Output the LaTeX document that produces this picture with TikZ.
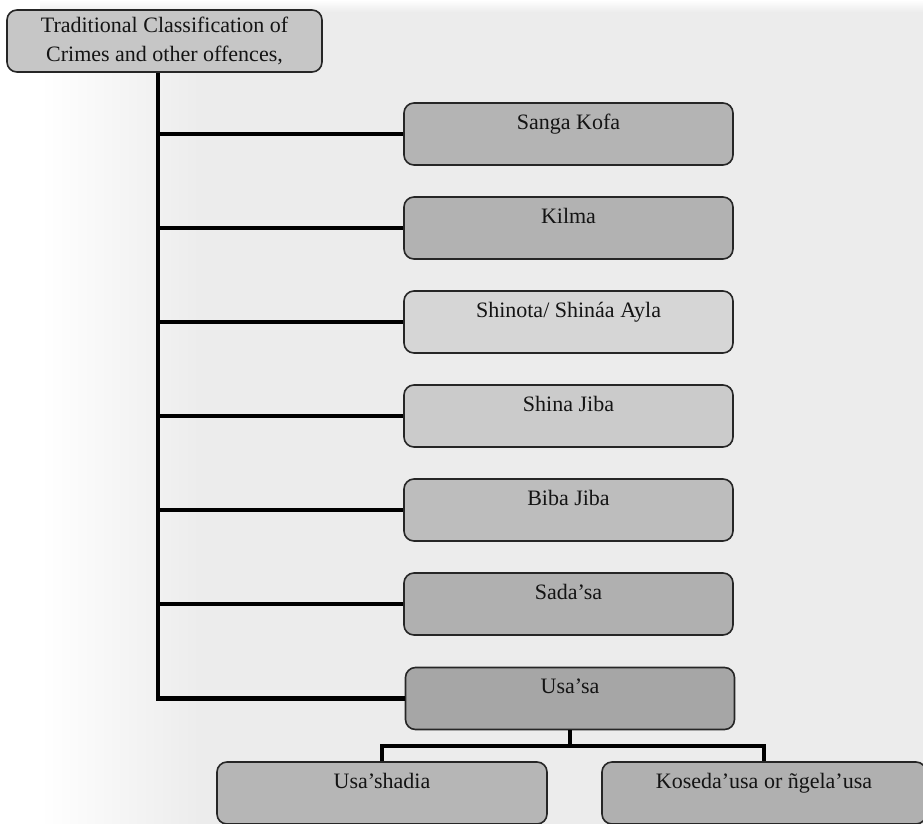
\documentclass[tikz,border=0pt]{standalone}
\usepackage{fontspec}
\setmainfont{Liberation Serif}
\definecolor{bg}{HTML}{ECECEC}
\definecolor{ink}{HTML}{141414}
\begin{document}
\begin{tikzpicture}[x=1pt,y=-1pt,
  box/.style={draw=black!85, line width=1.6pt, rounded corners=10pt,
    minimum width=329pt, inner xsep=4pt, inner ysep=4pt,
    text height=22pt, text depth=32pt,
    font=\fontsize{22}{26}\selectfont, text=ink},
  topbox/.style={draw=black!85, line width=1.6pt, rounded corners=10pt,
    minimum width=315pt, minimum height=62pt, align=center,
    font=\fontsize{22}{29}\selectfont, text=ink},
  conn/.style={line width=4.8pt, black}]
\useasboundingbox (0,0) rectangle (923,824);
\clip (0,0) rectangle (923,824);
\fill[bg] (0,0) rectangle (923,824);
\shade[left color=white, right color=bg] (40,0) rectangle (200,824);
\fill[white] (0,0) rectangle (40,824);
\shade[top color=white, bottom color=bg] (40,0) rectangle (923,12);

\node[topbox, fill={rgb,255:red,198;green,198;blue,198}] (top) at (164.5,41)
  {Traditional Classification of\\Crimes and other offences,};

\node[box, fill={rgb,255:red,180;green,180;blue,180}] (sanga) at (568.5,134) {Sanga Kofa};
\node[box, fill={rgb,255:red,178;green,178;blue,178}] (kilma) at (568.5,228) {Kilma};
\node[box, fill={rgb,255:red,214;green,214;blue,214}] (shinota) at (568.5,322) {Shinota/ Shináa Ayla};
\node[box, fill={rgb,255:red,203;green,203;blue,203}] (shina) at (568.5,416) {Shina Jiba};
\node[box, fill={rgb,255:red,189;green,189;blue,189}] (biba) at (568.5,510) {Biba Jiba};
\node[box, fill={rgb,255:red,176;green,176;blue,176}] (sada) at (568.5,604) {Sada’sa};
\node[box, fill={rgb,255:red,166;green,166;blue,166}] (usa) at (570,698.5) {Usa’sa};

\node[box, minimum width=330pt, fill={rgb,255:red,182;green,182;blue,182}] (shadia) at (382,793) {Usa’shadia};
\node[box, minimum width=324pt, fill={rgb,255:red,176;green,176;blue,176}] (koseda) at (764,793) {Koseda’usa or ñgela’usa};

\coordinate (t0) at (158,0);
\coordinate (bj) at (0,746);

\draw[conn] (top.south -| t0) |- (usa.west);
\foreach \n in {sanga,kilma,shinota,shina,biba,sada}
  \draw[conn] (\n.west -| t0) -- (\n.west);

\draw[conn] (usa.south) -- (usa.south |- bj);
\draw[conn] (shadia.north) -- (shadia.north |- bj) -- (koseda.north |- bj) -- (koseda.north);
\end{tikzpicture}
\end{document}
